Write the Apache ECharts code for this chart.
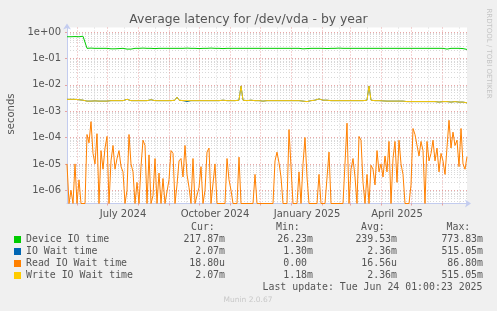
<!DOCTYPE html>
<html><head><meta charset="utf-8">
<script src="https://cdn.jsdelivr.net/npm/echarts@6/dist/echarts.min.js"></script>
<style>html,body{margin:0;padding:0;background:#f0f0f0;}#c{width:497px;height:311px;}</style>
</head><body><div id="c"></div>
<script>
// ---------- data ----------
const seriesNames = ['Device IO time', 'IO Wait time', 'Read IO Wait time', 'Write IO Wait time'];
const seriesColors = ['#00CC00', '#0066B3', '#FF8000', '#FFCC00'];
const startDate = '2024-05-22';
const dayCount = 401;
const sampleStep = 2; // days between samples

const deviceIO = [
 0.66,0.67,0.66,0.68,0.67,0.68,0.66,0.67,0.69,0.67,
 0.24,0.24,0.245,0.24,0.24,0.24,0.24,0.245,0.24,0.24,
 0.24,0.235,0.23,0.23,0.23,0.23,0.235,0.24,0.24,0.24,
 0.225,0.225,0.225,0.23,0.24,0.24,0.24,0.24,0.245,0.24,
 0.24,0.24,0.24,0.24,0.235,0.24,0.24,0.24,0.24,0.245,
 0.24,0.24,0.24,0.24,0.24,0.235,0.24,0.24,0.24,0.24,
 0.245,0.24,0.24,0.24,0.24,0.24,0.235,0.24,0.24,0.24,
 0.24,0.24,0.245,0.24,0.24,0.24,0.24,0.24,0.235,0.24,
 0.24,0.24,0.24,0.245,0.24,0.24,0.24,0.24,0.24,0.24,
 0.24,0.235,0.24,0.24,0.24,0.24,0.24,0.245,0.24,0.24,
 0.24,0.24,0.24,0.24,0.24,0.24,0.24,0.24,0.24,0.24,
 0.24,0.24,0.24,0.24,0.24,0.24,0.24,0.235,0.23,0.23,
 0.235,0.24,0.24,0.24,0.24,0.24,0.24,0.24,0.24,0.24,
 0.235,0.23,0.24,0.24,0.24,0.24,0.245,0.24,0.24,0.24,
 0.24,0.24,0.24,0.24,0.24,0.24,0.24,0.24,0.24,0.24,
 0.24,0.24,0.24,0.24,0.24,0.235,0.24,0.24,0.24,0.24,
 0.24,0.24,0.24,0.24,0.24,0.24,0.24,0.24,0.24,0.24,
 0.24,0.24,0.24,0.24,0.24,0.24,0.24,0.235,0.24,0.24,
 0.24,0.24,0.24,0.24,0.24,0.24,0.24,0.24,0.24,0.23,
 0.225,0.23,0.24,0.24,0.24,0.24,0.24,0.24,0.235,0.225,
 0.218
];

const ioWait = [
 2.8e-3,2.9e-3,2.8e-3,2.9e-3,2.8e-3,3.1e-3,2.7e-3,2.6e-3,2.6e-3,2.5e-3,
 2.4e-3,2.45e-3,2.4e-3,2.4e-3,2.45e-3,2.4e-3,2.4e-3,2.45e-3,2.4e-3,2.4e-3,
 2.4e-3,2.45e-3,2.5e-3,2.5e-3,2.5e-3,2.5e-3,2.5e-3,2.5e-3,2.5e-3,2.5e-3,
 2.8e-3,2.5e-3,2.5e-3,2.5e-3,2.5e-3,2.7e-3,2.5e-3,2.5e-3,2.5e-3,2.5e-3,
 2.5e-3,2.5e-3,2.7e-3,2.5e-3,2.5e-3,2.5e-3,2.5e-3,2.5e-3,2.5e-3,2.5e-3,
 2.5e-3,2.5e-3,2.5e-3,2.5e-3,2.6e-3,3.4e-3,2.6e-3,2.5e-3,2.5e-3,2.5e-3,
 2.3e-3,2.3e-3,2.5e-3,2.5e-3,2.5e-3,2.5e-3,2.5e-3,2.5e-3,2.5e-3,2.5e-3,
 2.5e-3,2.7e-3,2.5e-3,2.5e-3,2.5e-3,2.6e-3,2.5e-3,2.5e-3,2.6e-3,2.5e-3,
 2.5e-3,2.5e-3,2.5e-3,2.5e-3,2.5e-3,2.5e-3,2.6e-3,9.0e-3,2.6e-3,2.5e-3,
 2.5e-3,2.5e-3,2.6e-3,2.5e-3,2.5e-3,2.5e-3,2.5e-3,2.5e-3,2.4e-3,2.5e-3,
 2.5e-3,2.5e-3,2.5e-3,2.5e-3,2.5e-3,2.5e-3,2.5e-3,2.5e-3,2.5e-3,2.5e-3,
 2.5e-3,2.6e-3,2.5e-3,2.5e-3,2.5e-3,2.5e-3,2.5e-3,2.5e-3,2.4e-3,2.3e-3,
 2.3e-3,2.4e-3,2.5e-3,2.5e-3,2.6e-3,2.8e-3,2.9e-3,2.7e-3,2.6e-3,2.5e-3,
 2.6e-3,2.6e-3,2.5e-3,2.5e-3,2.5e-3,2.5e-3,2.5e-3,2.5e-3,2.5e-3,2.5e-3,
 2.5e-3,2.45e-3,2.5e-3,2.5e-3,2.5e-3,2.5e-3,2.5e-3,2.5e-3,2.5e-3,2.5e-3,
 2.6e-3,9.0e-3,2.6e-3,2.5e-3,2.5e-3,2.5e-3,2.5e-3,2.45e-3,2.45e-3,2.4e-3,
 2.4e-3,2.4e-3,2.4e-3,2.4e-3,2.4e-3,2.4e-3,2.4e-3,2.4e-3,2.4e-3,2.4e-3,
 2.3e-3,2.3e-3,2.3e-3,2.3e-3,2.3e-3,2.3e-3,2.3e-3,2.3e-3,2.3e-3,2.3e-3,
 2.3e-3,2.3e-3,2.3e-3,2.3e-3,2.3e-3,2.3e-3,2.2e-3,2.3e-3,2.3e-3,2.3e-3,
 2.3e-3,2.3e-3,2.2e-3,2.3e-3,2.3e-3,2.3e-3,2.2e-3,2.2e-3,2.2e-3,2.2e-3,
 2.07e-3
];

const readWait = [
 1.0e-5,0,1.0e-6,0,1.0e-5,0,2.5e-6,0,0,0,
 1.3e-4,6.3e-5,4.0e-4,2.5e-5,1.0e-5,1.4e-4,0,3.2e-5,6.3e-6,4.0e-5,
 1.1e-4,0,1.3e-5,5.0e-5,6.3e-6,1.6e-5,3.2e-5,7.9e-6,5.0e-6,0,
 1.0e-6,1.3e-4,1.0e-5,5.0e-6,0,2.0e-6,0,7.9e-6,7.9e-5,5.0e-5,
 0,2.2e-5,0,6.3e-7,1.6e-5,0,4.5e-6,0,2.8e-6,0,
 0,2.5e-6,3.2e-5,2.5e-5,0,1.6e-6,1.3e-5,1.6e-5,3.2e-6,5.0e-5,
 4.0e-6,1.3e-6,0,1.6e-5,0,0,1.3e-6,7.9e-6,0,1.0e-6,
 2.8e-5,4.0e-5,0,0,1.0e-5,0,0,0,0,0,
 1.6e-5,2.5e-6,1.0e-6,0,0,0,1.8e-5,0,0,0,
 0,0,0,0,4.0e-6,0,0,0,0,0,
 0,0,0,0,1.3e-5,2.8e-5,1.1e-5,3.2e-6,0,0,
 0,2.0e-4,7.9e-6,0,0,0,5.0e-6,0,1.0e-5,1.0e-4,
 3.2e-6,0,0,0,0,0,4.0e-6,0,0,0,
 0,2.8e-5,0,0,0,0,0,0,0,0,
 3.5e-4,0,6.3e-6,1.6e-5,3.2e-6,0,1.1e-4,7.9e-5,2.0e-6,0,
 4.0e-6,0,8.9e-6,6.3e-6,1.6e-6,3.2e-5,5.0e-6,1.0e-5,3.2e-6,2.0e-5,
 5.0e-6,7.1e-5,0,1.6e-5,7.1e-5,2.0e-6,7.9e-5,1.0e-5,4.0e-6,0,
 0,0,1.6e-6,2.2e-4,1.3e-4,1.4e-4,2.0e-5,7.1e-5,3.2e-5,0,
 7.1e-5,1.3e-5,2.5e-5,7.9e-5,1.3e-5,4.0e-5,5.0e-6,2.5e-5,1.3e-5,4.0e-6,
 3.5e-6,4.5e-4,4.0e-5,1.6e-4,5.0e-5,7.9e-5,7.9e-6,2.2e-4,1.0e-5,6.3e-6,
 1.88e-5
];

const writeWait = [
 2.8e-3,2.9e-3,2.8e-3,2.9e-3,2.8e-3,3.1e-3,2.7e-3,2.6e-3,2.6e-3,2.5e-3,
 2.4e-3,2.45e-3,2.4e-3,2.4e-3,2.45e-3,2.4e-3,2.4e-3,2.45e-3,2.4e-3,2.4e-3,
 2.4e-3,2.45e-3,2.5e-3,2.5e-3,2.5e-3,2.5e-3,2.5e-3,2.5e-3,2.5e-3,2.5e-3,
 2.8e-3,2.5e-3,2.5e-3,2.5e-3,2.5e-3,2.7e-3,2.5e-3,2.5e-3,2.5e-3,2.5e-3,
 2.5e-3,2.5e-3,2.7e-3,2.5e-3,2.5e-3,2.5e-3,2.5e-3,2.5e-3,2.5e-3,2.5e-3,
 2.5e-3,2.5e-3,2.5e-3,2.5e-3,2.6e-3,3.4e-3,2.6e-3,2.5e-3,2.5e-3,2.5e-3,
 2.5e-3,2.45e-3,2.5e-3,2.5e-3,2.5e-3,2.5e-3,2.5e-3,2.5e-3,2.5e-3,2.5e-3,
 2.5e-3,2.7e-3,2.5e-3,2.5e-3,2.5e-3,2.6e-3,2.5e-3,2.5e-3,2.6e-3,2.5e-3,
 2.5e-3,2.5e-3,2.5e-3,2.5e-3,2.5e-3,2.5e-3,2.6e-3,9.0e-3,2.6e-3,2.5e-3,
 2.5e-3,2.5e-3,2.6e-3,2.5e-3,2.5e-3,2.5e-3,2.5e-3,2.5e-3,2.4e-3,2.5e-3,
 2.5e-3,2.5e-3,2.5e-3,2.5e-3,2.5e-3,2.5e-3,2.5e-3,2.5e-3,2.5e-3,2.5e-3,
 2.5e-3,2.6e-3,2.5e-3,2.5e-3,2.5e-3,2.5e-3,2.5e-3,2.5e-3,2.4e-3,2.3e-3,
 2.3e-3,2.4e-3,2.5e-3,2.5e-3,2.6e-3,2.8e-3,2.9e-3,2.7e-3,2.6e-3,2.5e-3,
 2.6e-3,2.6e-3,2.5e-3,2.5e-3,2.5e-3,2.5e-3,2.5e-3,2.5e-3,2.5e-3,2.5e-3,
 2.5e-3,2.45e-3,2.5e-3,2.5e-3,2.5e-3,2.5e-3,2.5e-3,2.5e-3,2.5e-3,2.5e-3,
 2.6e-3,9.0e-3,2.6e-3,2.5e-3,2.5e-3,2.5e-3,2.5e-3,2.45e-3,2.45e-3,2.4e-3,
 2.4e-3,2.4e-3,2.4e-3,2.4e-3,2.4e-3,2.4e-3,2.4e-3,2.4e-3,2.4e-3,2.4e-3,
 2.3e-3,2.3e-3,2.3e-3,2.3e-3,2.3e-3,2.3e-3,2.3e-3,2.3e-3,2.3e-3,2.3e-3,
 2.3e-3,2.3e-3,2.3e-3,2.3e-3,2.3e-3,2.3e-3,2.2e-3,2.3e-3,2.3e-3,2.3e-3,
 2.3e-3,2.3e-3,2.2e-3,2.3e-3,2.3e-3,2.3e-3,2.2e-3,2.2e-3,2.2e-3,2.2e-3,
 2.07e-3
];

const yDecades = [-6, -5, -4, -3, -2, -1, 0];   // log10 of tick labels 1e-06 .. 1e+00
const xLabelDates = ['2024-07-17', '2024-10-17', '2025-01-17', '2025-04-17'];
const xLabelTexts = ['July 2024', 'October 2024', 'January 2025', 'April 2025'];
const statHeaders = ['Cur:', 'Min:', 'Avg:', 'Max:'];
const statValues = [
  ['217.87m', '26.23m', '239.53m', '773.83m'],
  ['2.07m', '1.30m', '2.36m', '515.05m'],
  ['18.80u', '0.00 ', '16.56u', '86.80m'],
  ['2.07m', '1.18m', '2.36m', '515.05m']
];
const titleText = 'Average latency for /dev/vda - by year';
const yAxisTitle = 'seconds';
const lastUpdate = 'Last update: Tue Jun 24 01:00:23 2025';
const footerText = 'Munin 2.0.67';
const sideText = 'RRDTOOL / TOBI OETIKER';

// ---------- build ----------
const yMin = -6.5, yMax = 0.17;
const days = [];
{
  const t0 = Date.parse(startDate + 'T00:00:00Z');
  for (let d = 0; d < dayCount; d++) days.push(new Date(t0 + d * 86400000).toISOString().slice(0, 10));
}
const minorTicks = [];
for (let d = -7; d <= 0; d++) for (let k = 2; k <= 9; k++) {
  const v = d + Math.log10(k);
  if (v > yMin && v < yMax) minorTicks.push(v);
}
const toLog = v => (v > 0 ? Math.log10(v) : yMin);
const build = arr => arr.map((v, i) => [i * sampleStep, toLog(v)]);
const fmtExp = v => {
  const e = Math.round(v);
  return '1e' + (e < 0 ? '-' : '+') + String(Math.abs(e)).padStart(2, '0');
};

const MONO = 'DejaVu Sans Mono';
const SANS = 'DejaVu Sans';
const txtColor = '#555';
const axisCol = '#c3ccef';
const redGrid = 'rgba(225,130,130,0.7)';
const grayGrid = '#d8d8d8';

const graphics = [];
graphics.push({ type: 'text', x: 248.5, y: 19.5, style: { text: titleText, font: '12.4px "' + SANS + '"', fill: '#555', align: 'center', verticalAlign: 'middle' } });
graphics.push({ type: 'text', x: 11, y: 114, rotation: Math.PI / 2, style: { text: yAxisTitle, font: '10px "' + SANS + '"', fill: txtColor, align: 'center', verticalAlign: 'middle' } });
graphics.push({ type: 'text', x: 488.5, y: 53.5, rotation: -Math.PI / 2, style: { text: sideText, font: '7px "' + SANS + '"', fill: '#c4c4c4', align: 'center', verticalAlign: 'middle' } });
graphics.push({ type: 'text', x: 248, y: 300, style: { text: footerText, font: '7.5px "' + SANS + '"', fill: '#c8c8c8', align: 'center', verticalAlign: 'middle' } });
const headerX = [191, 276, 361, 446.5];
const colRight = [225, 313, 397, 483];
statHeaders.forEach((h, j) => graphics.push({ type: 'text', x: headerX[j], y: 227.5, style: { text: h, font: '9.9px "' + MONO + '"', fill: txtColor, align: 'left', verticalAlign: 'middle' } }));
statValues.forEach((row, r) => row.forEach((s, j) => graphics.push({ type: 'text', x: colRight[j], y: 239.5 + 12 * r, style: { text: s, font: '9.9px "' + MONO + '"', fill: txtColor, align: 'right', verticalAlign: 'middle' } })));
graphics.push({ type: 'text', x: 482.5, y: 287.5, style: { text: lastUpdate, font: '9.9px "' + MONO + '"', fill: txtColor, align: 'right', verticalAlign: 'middle' } });

const series = [deviceIO, ioWait, readWait, writeWait].map((arr, k) => ({
  name: seriesNames[k], type: 'line', data: build(arr), xAxisIndex: 0, yAxisIndex: 0,
  showSymbol: false, symbol: 'none', color: seriesColors[k],
  lineStyle: { width: 1, color: seriesColors[k] }, animation: false, z: 5 + k
}));

const chart = echarts.init(document.getElementById('c'), null, { renderer: 'canvas' });
chart.setOption({
  backgroundColor: '#f0f0f0',
  animation: false,
  grid: { left: 67, right: 30, top: 27.5, bottom: 107.5, show: true, backgroundColor: '#ffffff', borderWidth: 0 },
  legend: {
    data: seriesNames, orient: 'vertical', left: 14, top: 233.5, padding: 0, itemGap: 0,
    itemWidth: 7, itemHeight: 7, icon: 'rect', selectedMode: false,
    textStyle: { fontFamily: MONO, fontSize: 9.9, color: txtColor, lineHeight: 12 }
  },
  xAxis: [{
    type: 'category', data: days, boundaryGap: false, position: 'bottom',
    axisLine: { show: true, onZero: false, lineStyle: { color: axisCol, width: 1 }, symbol: ['none', 'arrow'], symbolSize: [6, 6], symbolOffset: [0, 4] },
    axisTick: { show: true, interval: (i, v) => v.slice(8) === '01', length: 2, lineStyle: { color: redGrid } },
    axisLabel: { show: true, interval: (i, v) => xLabelDates.includes(v), formatter: v => xLabelTexts[xLabelDates.indexOf(v)] || '', fontFamily: SANS, fontSize: 10, color: txtColor, margin: 6, hideOverlap: false },
    splitLine: { show: true, interval: (i, v) => v.slice(8) === '01', lineStyle: { color: redGrid, type: [1, 2], width: 1 } }
  }, {
    type: 'category', data: days, boundaryGap: false, position: 'top',
    axisLine: { show: false, onZero: false }, axisTick: { show: false }, axisLabel: { show: false },
    splitLine: { show: true, interval: (i, v) => v.slice(8) === '18', lineStyle: { color: grayGrid, type: [1, 2], width: 1 } }
  }],
  yAxis: [{
    type: 'value', min: yMin, max: yMax, position: 'left',
    axisLine: { show: true, onZero: false, lineStyle: { color: axisCol, width: 1 }, symbol: ['none', 'arrow'], symbolSize: [6, 6], symbolOffset: [0, 4] },
    axisTick: { show: true, customValues: yDecades, length: 2, lineStyle: { color: redGrid } },
    axisLabel: { show: true, customValues: yDecades, formatter: fmtExp, fontFamily: SANS, fontSize: 10, color: txtColor, margin: 6 },
    splitLine: { show: true, lineStyle: { color: redGrid, type: [1, 2], width: 1 } }
  }, {
    type: 'value', min: yMin, max: yMax, position: 'right',
    axisLine: { show: false, onZero: false }, axisLabel: { show: false },
    axisTick: { show: false, customValues: minorTicks },
    splitLine: { show: true, lineStyle: { color: grayGrid, type: [1, 2], width: 1 } }
  }],
  series: series,
  graphic: graphics
});
</script></body></html>
